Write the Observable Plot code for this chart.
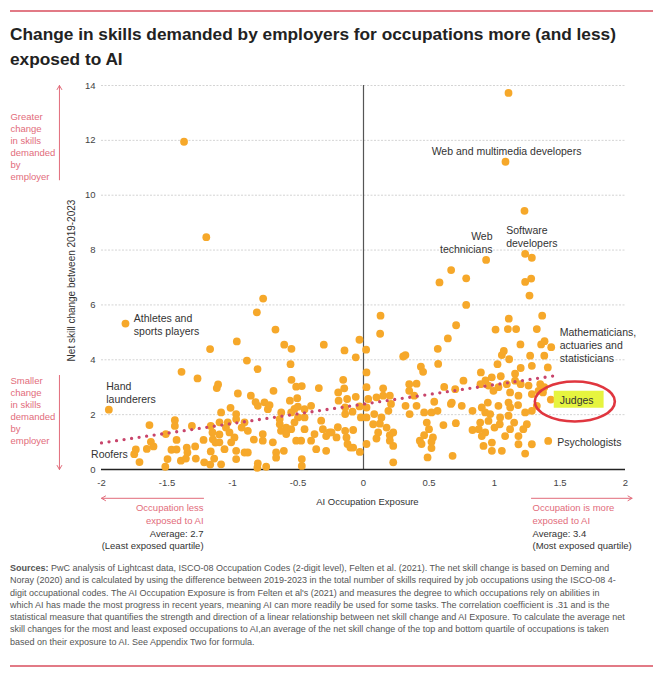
<!DOCTYPE html>
<html><head><meta charset="utf-8">
<script src="https://cdn.jsdelivr.net/npm/d3@7"></script>
<script src="https://cdn.jsdelivr.net/npm/@observablehq/plot@0.6"></script>
<style>
body{margin:0;background:#fff;font-family:"Liberation Sans",Arial,sans-serif;}
#wrap{position:relative;width:663px;height:673px;overflow:hidden;background:#fff}
.rule{position:absolute;left:10px;width:643px;height:1.5px;background:#E27A86}
#title{position:absolute;left:10px;top:22px;width:650px;font-weight:bold;font-size:17.3px;line-height:25px;color:#222;white-space:nowrap}
#chart{position:absolute;left:0;top:72px}
#src{position:absolute;left:10px;top:562px;width:650px;font-size:9px;line-height:12.3px;color:#555;white-space:nowrap}
</style></head>
<body>
<div id="wrap">
  <div class="rule" style="top:10px"></div>
  <div id="title">Change in skills demanded by employers for occupations more (and less)<br>exposed to AI</div>
  <div id="chart"></div>
  <div id="src"><b>Sources:</b> PwC analysis of Lightcast data, ISCO-08 Occupation Codes (2-digit level), Felten et al. (2021). The net skill change is based on Deming and<br>Noray (2020) and is calculated by using the difference between 2019-2023 in the total number of skills required by job occupations using the ISCO-08 4-<br>digit occupational codes. The AI Occupation Exposure is from Felten et al's (2021) and measures the degree to which occupations rely on abilities in<br>which AI has made the most progress in recent years, meaning AI can more readily be used for some tasks. The correlation coefficient is .31 and is the<br>statistical measure that quantifies the strength and direction of a linear relationship between net skill change and AI Exposure. To calculate the average net<br>skill changes for the most and least exposed occupations to AI,an average of the net skill change of the top and bottom quartile of occupations is taken<br>based on their exposure to AI. See Appendix Two for formula.</div>
  <div class="rule" style="top:665px"></div>
</div>
<script>
// [AI occupation exposure, net skill change 2019-2023]
const upperPoints = [[-1.37,11.95],[-1.20,8.47],[1.107,13.73],[1.084,11.22],[1.229,9.43],[1.234,7.86],[1.285,7.72],[0.936,7.64],[0.669,7.27],[0.784,6.97],[0.58,6.82],[1.28,6.96],[1.234,6.84],
[-1.817,5.32],[-0.766,6.23],[-0.814,5.73],[-0.672,5.10],[-0.967,4.67],[-0.605,4.55],[-0.55,4.40],[-1.171,4.39],[-0.303,4.55],[-0.145,4.34],[-0.031,4.73],[0.02,4.37],
[0.13,5.61],[0.127,4.95],[0.707,5.26],[0.644,4.78],[0.567,4.40],[0.784,6.0],[1.267,6.34],[1.364,5.61],[1.323,5.12],[1.109,5.50],[1.102,5.12],[1.165,5.12],[1.008,5.10],[1.198,4.56],[1.356,4.56],[1.382,4.68],[1.433,4.46],[1.071,4.32]];
const leastExposed = [[-1.944,2.18],[-1.389,3.56],[-1.267,3.32],[-1.12,2.97],[-1.11,3.10],[-1.634,1.62],[-1.44,1.80],[-1.44,1.59],[-1.31,1.59],[-1.509,1.29],[-1.623,1.01],[-1.654,0.75],[-1.603,0.84],[-1.738,0.73],[-1.75,0.56],[-1.71,0.27],[-1.427,1.08],[-1.466,0.72],[-1.427,0.73],[-1.349,0.80],[-1.285,0.84],[-1.344,0.62],[-1.496,0.38],[-1.394,0.32],[-1.356,0.40],[-1.513,0.10],[-1.28,0.40],[-1.216,0.26],[-1.221,1.08],[-1.166,1.59],[-1.153,1.35],[-1.15,1.10],[-1.13,0.98],[-1.166,0.66],[-1.14,0.40],[-1.17,0.18]];
const lowerMidExposed = [[-0.89,3.97],[-0.809,3.66],[-0.557,3.84],[-0.55,3.27],[-0.514,3.02],[-0.471,3.04],[-0.341,2.97],[-0.959,2.77],[-0.86,2.69],[-0.687,2.87],[-0.562,2.51],[-0.506,2.60],[-0.501,2.29],[-0.807,2.32],[-0.756,2.45],[-0.73,2.2],[-1.015,2.25],[-1.087,2.08],[-0.972,2.02],[-0.972,1.84],[-0.908,1.72],[-1.036,1.72],[-1.099,1.72],[-0.883,1.41],[-0.93,1.53],[-1.023,1.35],[-1.1,1.28],[-0.985,1.17],[-1.1,0.99],[-1.01,0.99],[-1.061,0.74],[-0.972,0.68],[-0.908,0.62],[-0.883,0.62],[-0.972,0.38],[-1.087,0.19],[-0.807,0.22],[-0.81,0.06],[-0.743,0.10],[-0.769,1.29],[-0.837,1.09],[-0.769,1.05],[-0.692,0.99],[-0.667,0.62],[-0.667,0.43],[-0.608,0.68],[-0.639,1.65],[-0.59,1.53],[-0.63,1.41],[-0.59,1.29],[-0.552,1.47],[-0.527,1.72],[-0.5,1.9],[-0.45,1.47],[-0.476,1.05],[-0.514,1.05],[-0.4,1.05],[-0.374,1.29],[-0.323,1.78],[-0.31,1.47],[-0.285,1.22],[-0.26,1.35],[-0.361,0.74],[-0.285,0.68],[-0.471,0.13],[-0.471,0.38],[-0.628,2.08],[-0.552,2.08],[-0.45,2.2],[-0.4,2.32],[-0.45,1.9],[-0.64,1.84],[-1.05,1.53],[-0.824,2.46],[-0.717,2.35],[-0.527,2.21]];
const upperMidExposed = [[-0.059,4.09],[0.023,3.54],[0.023,3.0],[-0.155,3.27],[-0.147,2.96],[-0.193,2.81],[-0.125,2.57],[-0.19,2.51],[-0.059,2.65],[0.036,2.57],[-0.14,2.02],[-0.14,2.26],[-0.084,2.11],[-0.03,2.3],[-0.02,1.9],[0.023,2.26],[0.023,1.9],[0.082,2.02],[0.099,2.63],[0.15,2.96],[0.15,2.69],[0.201,2.69],[0.21,2.39],[0.19,2.14],[0.137,1.9],[0.074,1.65],[0.125,1.67],[-0.244,1.35],[-0.206,1.17],[-0.14,1.41],[-0.13,1.17],[-0.079,1.44],[-0.196,1.54],[-0.122,0.93],[-0.1,0.80],[-0.079,0.80],[-0.028,0.64],[0.023,0.93],[0.112,1.35],[0.099,1.13],[0.176,1.53],[0.201,1.25],[0.227,1.35],[0.201,1.05],[0.227,0.86],[0.227,0.26],[0.303,4.12],[0.32,4.17],[0.438,3.75],[0.455,3.56],[0.57,3.85],[0.349,3.11],[0.405,3.13],[0.349,2.87],[0.387,2.69],[0.321,2.32],[0.352,2.02],[0.405,2.32],[0.463,2.08],[0.519,2.08],[0.565,2.14],[0.54,2.47],[0.616,3.01],[0.667,2.39],[0.61,1.62],[0.483,1.71],[0.5,1.47],[0.463,1.25],[0.53,1.17],[0.43,1.05],[0.443,0.93],[0.519,1.01],[0.519,0.78],[0.489,0.44],[0.68,0.5]];
const mostExposed = [[1.056,4.17],[1.112,4.02],[1.023,3.84],[1.272,4.15],[1.38,4.15],[1.407,3.72],[1.285,3.78],[1.2,3.7],[0.896,3.54],[0.763,3.24],[0.931,3.25],[0.979,3.36],[1.048,3.4],[1.157,3.49],[1.157,3.24],[1.094,3.11],[0.893,3.11],[0.954,3.06],[0.992,2.87],[1.03,3.0],[1.119,2.81],[1.2,3.11],[1.26,3.06],[1.285,2.75],[1.349,3.11],[1.336,2.87],[1.37,2.81],[1.38,3.0],[0.7,2.93],[0.674,2.44],[0.75,2.32],[0.705,1.69],[0.832,2.14],[0.903,2.26],[0.949,2.44],[0.929,2.08],[0.967,2.02],[1.03,2.32],[1.107,2.44],[1.183,2.69],[1.18,2.35],[1.12,2.26],[1.107,1.96],[1.043,1.9],[1.04,1.65],[0.954,1.77],[0.891,1.71],[0.88,1.47],[0.929,1.35],[1.0,1.53],[0.832,1.44],[0.903,1.22],[0.98,0.98],[0.916,0.86],[0.98,0.68],[1.056,0.68],[1.081,1.22],[1.119,1.47],[1.15,1.71],[1.234,2.08],[1.285,2.14],[1.323,2.32],[1.247,1.65],[1.22,1.47],[1.183,1.22],[1.183,0.92],[1.234,0.58],[1.285,0.92],[1.41,1.04],[1.43,2.55]];

// trend line (linear fit) end points
const trendExposure = [-2, 1.465];
const trendChange = [0.97, 3.42];

const xTicks = [-2, -1.5, -1, -0.5, 0, 0.5, 1, 1.5, 2];
const yTicks = [0, 2, 4, 6, 8, 10, 12, 14];

const labelText = ["Web and multimedia developers", "Web\ntechnicians", "Software\ndevelopers", "Athletes and\nsports players", "Hand\nlaunderers", "Roofers", "Mathematicians,\nactuaries and\nstatisticians", "Psychologists"];
const labelX = [1.092, 0.985, 1.089, -1.753, -1.964, -1.799, 1.498, 1.479];
const labelY = [11.62, 8.28, 8.51, 5.29, 2.81, 0.56, 4.53, 1.02];
const labelAnchor = ["middle", "end", "start", "start", "start", "end", "start", "start"];
const judges = {text: "Judges", x: 1.498, y: 2.52};
const judgesRing = {x: 1.617, y: 2.46};

const sideNotes = ["Greater\nchange\nin skills\ndemanded\nby\nemployer", "Smaller\nchange\nin skills\ndemanded\nby\nemployer"];
const sideNoteY = [11.78, 2.16];
const sideArrows = [{y1: 10.56, y2: 14}, {y1: 3.43, y2: 0}];
const bottomArrows = [{x1: -1.221, x2: -2}, {x1: 1.282, x2: 2.05}];
const lessExposedNote = ["Occupation less", "exposed to AI", "Average: 2.7", "(Least exposed quartile)"];
const moreExposedNote = ["Occupation is more", "exposed to AI", "Average: 3.4", "(Most exposed quartile)"];
const noteY = [-1.42, -1.877, -2.333, -2.789];

const points = [...upperPoints, ...leastExposed, ...lowerMidExposed, ...upperMidExposed, ...mostExposed]
  .map(([x, y]) => ({x, y}));
const trend = trendExposure.map((x, i) => ({x, y: trendChange[i]}));
const labels = labelText.map((t, i) => ({t, x: labelX[i], y: labelY[i], a: labelAnchor[i]}));
const pink = "#E26C7B";
const noteRows = (arr, x) => arr.map((t, i) => ({t, x, y: noteY[i], c: i < 2 ? pink : "#333"}));
const lessNotes = noteRows(lessExposedNote, -1.221);
const moreNotes = noteRows(moreExposedNote, 1.29);

const labelMark = (anchor) => Plot.text(labels.filter(d => d.a === anchor), {x: "x", y: "y", text: "t", textAnchor: anchor, lineAnchor: "middle", fontSize: 10.5, lineHeight: 1.24, fill: "#333"});

const chart = Plot.plot({
  width: 663, height: 497,
  marginLeft: 101, marginRight: 38, marginTop: 13, marginBottom: 100,
  x: {domain: [-2, 2]},
  y: {domain: [0, 14]},
  style: {fontFamily: "'Liberation Sans', Arial, sans-serif", fontSize: "9.5px", color: "#333", background: "#fff", overflow: "visible"},
  marks: [
    Plot.gridY({ticks: yTicks.filter(d => d > 0), stroke: "#d4d4d4", strokeOpacity: 1, strokeDasharray: "2,1.5"}),
    Plot.axisY({ticks: yTicks, tickSize: 0, tickPadding: 6, label: null, tickFormat: d => String(d), fill: "#444"}),
    Plot.axisX({ticks: xTicks, tickSize: 0, tickPadding: 9.5, label: null, tickFormat: d => String(d), fill: "#444"}),
    Plot.ruleX([0], {y1: 0, y2: 14, stroke: "#555", strokeWidth: 1.2}),
    Plot.ruleY([0], {stroke: "#222", strokeWidth: 1.3}),
    Plot.dot(points, {x: "x", y: "y", r: 3.9, fill: "#F6A82A"}),
    Plot.line(trend, {x: "x", y: "y", stroke: "#C8456B", strokeWidth: 3.3, strokeDasharray: "0 7.6", strokeLinecap: "round"}),
    labelMark("middle"), labelMark("start"), labelMark("end"),
    Plot.text([judges], {x: "x", y: "y", text: "text", textAnchor: "start", lineAnchor: "middle", fontSize: 10.5, fill: "#333"}),
    Plot.text(sideNotes, {x: () => -2.695, y: (d, i) => sideNoteY[i], text: d => d, textAnchor: "start", lineAnchor: "middle", fontSize: 9.5, lineHeight: 1.27, fill: pink}),
    Plot.arrow(sideArrows, {x1: () => -2.321, x2: () => -2.321, y1: "y1", y2: "y2", stroke: pink, strokeWidth: 1, headLength: 7}),
    Plot.arrow(bottomArrows, {x1: "x1", x2: "x2", y1: () => -1.05, y2: () => -1.05, stroke: pink, strokeWidth: 1, headLength: 7}),
    Plot.text(lessNotes, {x: "x", y: "y", text: "t", textAnchor: "end", lineAnchor: "middle", fontSize: 9.5, fill: "c"}),
    Plot.text(moreNotes, {x: "x", y: "y", text: "t", textAnchor: "start", lineAnchor: "middle", fontSize: 9.5, fill: "c"}),
    Plot.text(["AI Occupation Exposure"], {x: () => 0.03, y: () => -1.17, text: d => d, fontSize: 9.5, fill: "#333"}),
    Plot.text(["Net skill change between 2019-2023"], {x: () => -2.229, y: () => 6.89, text: d => d, rotate: -90, fontSize: 10, fill: "#333"})
  ]
});
document.getElementById("chart").append(chart);

// highlight box behind "Judges" and red ring around it
const svg = d3.select(chart);
const xs = chart.scale("x"), ys = chart.scale("y");
const svgBox = chart.getBoundingClientRect();
const jt = svg.selectAll("text").filter(function() { return this.textContent === judges.text; }).node();
if (jt) {
  const b = jt.getBoundingClientRect();
  const g = jt.parentNode;
  d3.select(g.parentNode).insert("rect", () => g)
    .attr("x", b.left - svgBox.left - 6).attr("y", b.top - svgBox.top - 3)
    .attr("width", b.width + 16).attr("height", b.height + 5)
    .attr("fill", "#E6F43F");
}
svg.append("ellipse")
  .attr("cx", xs.apply(judgesRing.x)).attr("cy", ys.apply(judgesRing.y))
  .attr("rx", 40).attr("ry", 20)
  .attr("fill", "none").attr("stroke", "#E0363F").attr("stroke-width", 2.6);
</script>
</body></html>
